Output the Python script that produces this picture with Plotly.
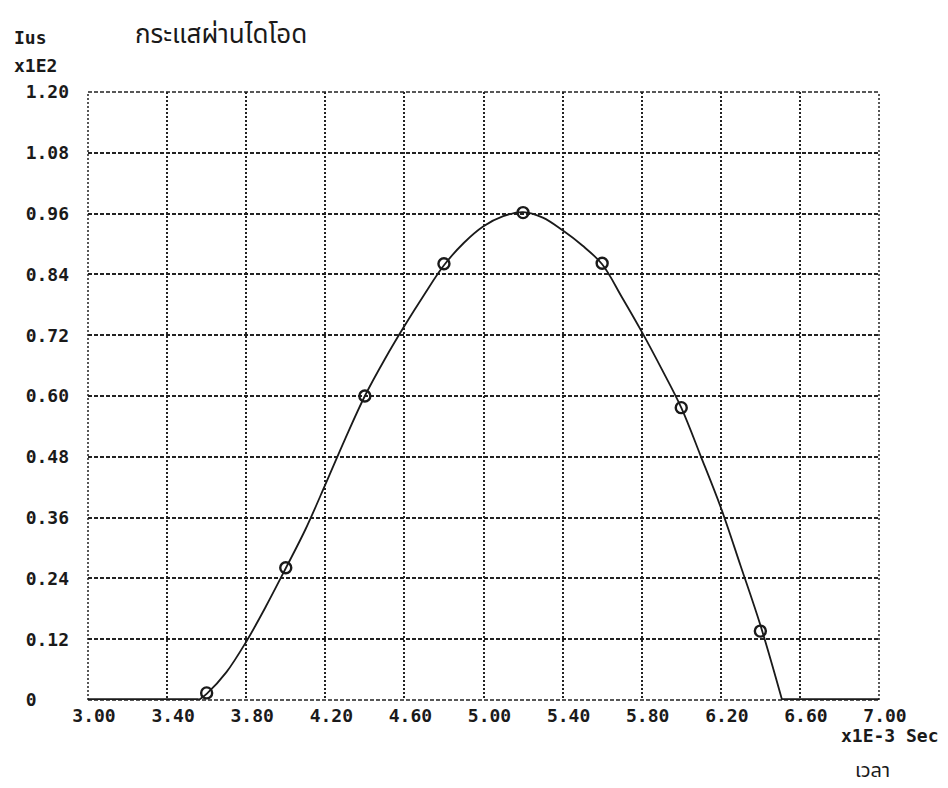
import plotly.graph_objects as go

# Measured data points (time x1E-3 s, current x1E2)
point_t = [3.60, 4.00, 4.40, 4.80, 5.20, 5.60, 6.00, 6.40]
point_i = [0.014, 0.261, 0.600, 0.861, 0.962, 0.862, 0.577, 0.136]

# Fitted curve: flat start, smooth hump, flat end
flat_left_t = [3.00, 3.56]
flat_left_i = [0.0, 0.0]
curve_t = [3.56, 3.60, 3.70, 3.80, 3.90, 4.00, 4.10, 4.20, 4.30, 4.40, 4.50,
           4.60, 4.70, 4.80, 4.90, 5.00, 5.10, 5.20, 5.30, 5.40, 5.50, 5.60,
           5.70, 5.80, 5.90, 6.00, 6.10, 6.20, 6.30, 6.40, 6.51]
curve_i = [0.0, 0.012, 0.055, 0.115, 0.185, 0.26, 0.337, 0.425, 0.515, 0.60, 0.672,
           0.738, 0.80, 0.858, 0.902, 0.935, 0.955, 0.963, 0.952, 0.927, 0.897, 0.860,
           0.795, 0.727, 0.654, 0.577, 0.48, 0.38, 0.265, 0.148, 0.0]
flat_right_t = [6.51, 7.00]
flat_right_i = [0.0, 0.0]

x_ticks = [3.00, 3.40, 3.80, 4.20, 4.60, 5.00, 5.40, 5.80, 6.20, 6.60, 7.00]
x_ticktext = ["3.00", "3.40", "3.80", "4.20", "4.60", "5.00", "5.40", "5.80", "6.20", "6.60", "7.00"]
y_ticks = [0, 0.12, 0.24, 0.36, 0.48, 0.60, 0.72, 0.84, 0.96, 1.08, 1.20]
y_ticktext = ["0\u00a0\u00a0\u00a0", "0.12", "0.24", "0.36", "0.48", "0.60", "0.72", "0.84", "0.96", "1.08", "1.20"]

title_text = "กระแสผ่านไดโอด"
y_unit1 = "Ius"
y_unit2 = "x1E2"
x_unit = "x1E-3 Sec"
x_title = "เวลา"

MONO = "DejaVu Sans Mono"
THAI = "Noto Sans Thai, Loma, Garuda, Noto Sans, DejaVu Sans, sans-serif"
INK = "#1a1a1a"

fig = go.Figure()
for tx, iy, shp, w in [(flat_left_t, flat_left_i, "linear", 3.6),
                       (curve_t, curve_i, "spline", 1.8),
                       (flat_right_t, flat_right_i, "linear", 3.6)]:
    fig.add_trace(go.Scatter(
        x=tx, y=iy, mode="lines",
        line=dict(color=INK, width=w, shape=shp, smoothing=1.0),
        hoverinfo="skip", showlegend=False,
    ))
fig.add_trace(go.Scatter(
    x=point_t, y=point_i, mode="markers",
    marker=dict(symbol="circle-open", size=11, color=INK, line=dict(width=2.4, color=INK)),
    showlegend=False,
))

fig.update_xaxes(
    range=[3.0, 7.0], tickvals=x_ticks, ticktext=x_ticktext,
    showgrid=True, gridcolor="#222222", gridwidth=1.5, griddash="2px,2px",
    zeroline=False, showline=False, ticks="",
    tickfont=dict(family=MONO, size=18, color=INK, weight="bold"),
    ticklabelstandoff=3, ticklabelshift=6,
)
fig.update_yaxes(
    range=[0, 1.2], tickvals=y_ticks, ticktext=y_ticktext,
    showgrid=True, gridcolor="#222222", gridwidth=1.5, griddash="4px,2px",
    zeroline=False, showline=False, ticks="",
    tickfont=dict(family=MONO, size=18, color=INK, weight="bold"),
    ticklabelstandoff=18,
)

# Border gridlines (plotly omits gridlines at the range edges)
edge_v = dict(color="#222222", width=1.5, dash="2px,2px")
edge_h = dict(color="#222222", width=1.5, dash="4px,2px")
shapes = [
    dict(type="line", xref="paper", yref="paper", x0=0, x1=0, y0=0, y1=1, line=edge_v, layer="below"),
    dict(type="line", xref="paper", yref="paper", x0=1, x1=1, y0=0, y1=1, line=edge_v, layer="below"),
    dict(type="line", xref="paper", yref="paper", x0=0, x1=1, y0=1, y1=1, line=edge_h, layer="below"),
    dict(type="line", xref="paper", yref="paper", x0=0, x1=1, y0=0, y1=0, line=edge_h, layer="below"),
]

annot_font = dict(family=MONO, size=18, color=INK, weight="bold")
fig.update_layout(
    width=948, height=788,
    margin=dict(l=80, r=77, t=84, b=96),
    paper_bgcolor="white", plot_bgcolor="white",
    shapes=shapes,
    annotations=[
        dict(text=title_text, xref="paper", yref="paper", x=0.057, y=1.094,
             xanchor="left", yanchor="middle", showarrow=False,
             font=dict(family=THAI, size=26, color=INK)),
        dict(text=y_unit1, xref="paper", yref="paper", x=-0.096, y=1.089,
             xanchor="left", yanchor="middle", showarrow=False, font=annot_font),
        dict(text=y_unit2, xref="paper", yref="paper", x=-0.096, y=1.044,
             xanchor="left", yanchor="middle", showarrow=False, font=annot_font),
        dict(text=x_unit, xref="paper", yref="paper", x=1.078, y=-0.058,
             xanchor="right", yanchor="middle", showarrow=False, font=annot_font),
        dict(text=x_title, xref="paper", yref="paper", x=0.992, y=-0.117,
             xanchor="center", yanchor="middle", showarrow=False,
             font=dict(family=THAI, size=20, color=INK)),
    ],
)

fig.write_html("out.html")
